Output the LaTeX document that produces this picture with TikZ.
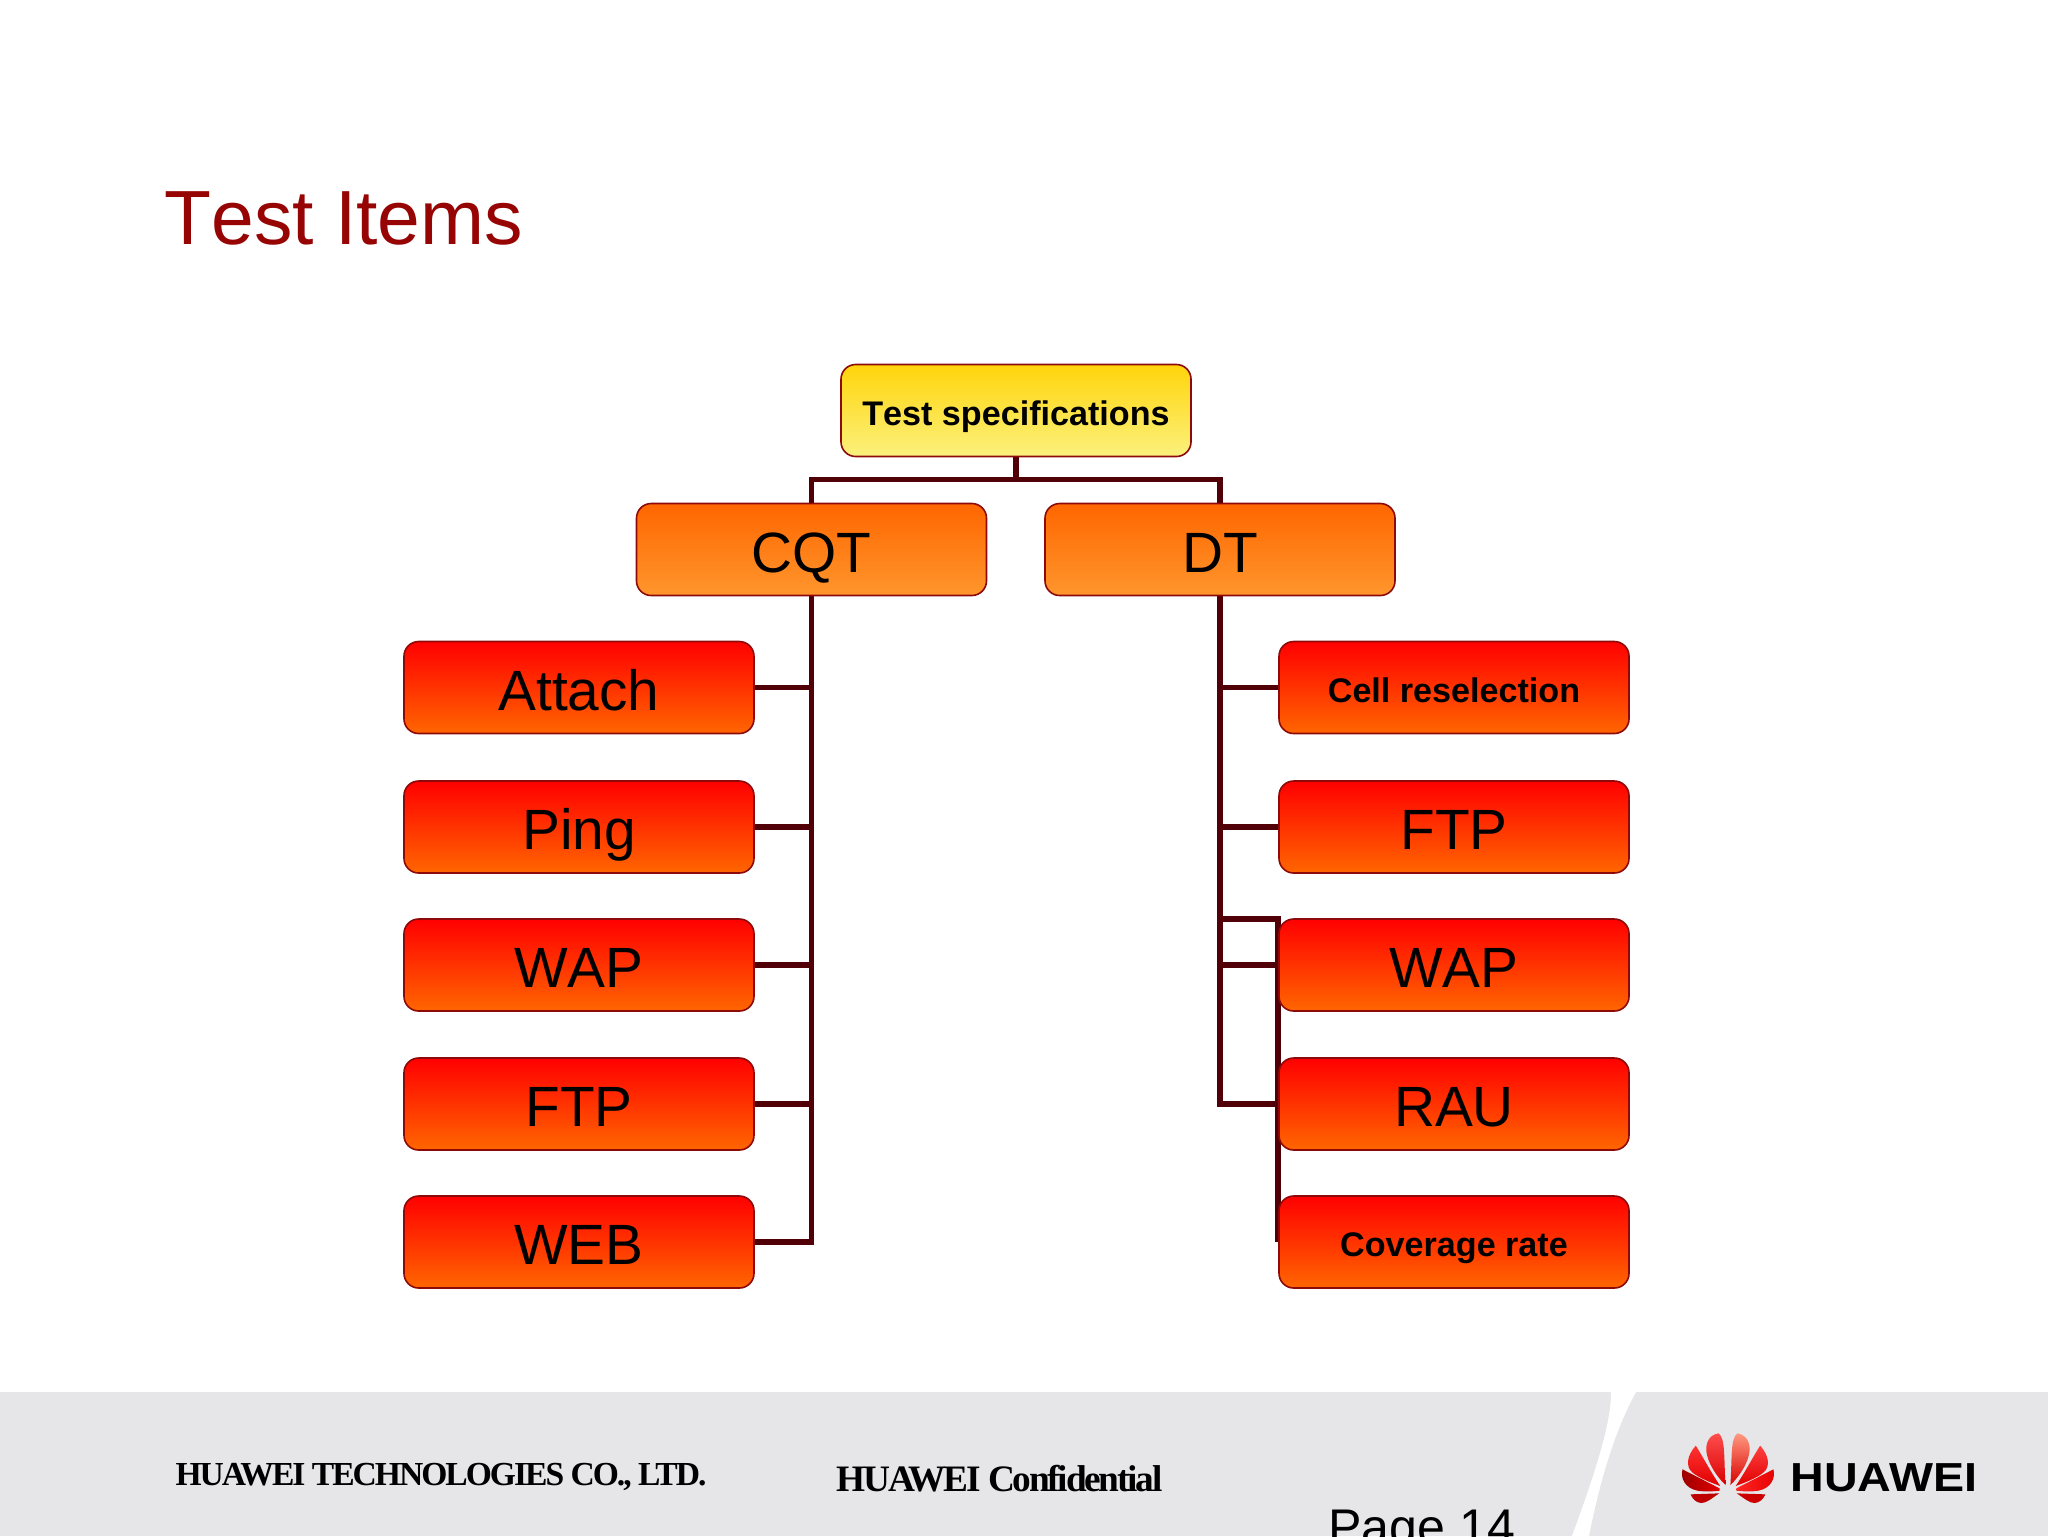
\documentclass[tikz,border=0pt]{standalone}
\usepackage{fontspec}
\setmainfont[Kerning=Off]{Liberation Sans}
\newfontfamily\footserif[LetterSpace=-6]{Liberation Serif}
\newfontfamily\brandfont{Liberation Sans}
\usetikzlibrary{backgrounds}
\definecolor{linedark}{HTML}{520008}
\definecolor{boxedge}{HTML}{8E0A0A}
\definecolor{titlered}{HTML}{960404}
\definecolor{footgray}{HTML}{E6E5E8}
\tikzset{
  x=0.375pt,y=-0.375pt,
  boxbase/.style={draw=boxedge,line width=0.6pt,rounded corners=5.5pt,minimum width=131.25pt,minimum height=34.5pt,inner sep=0pt,text=black,align=center},
  bigtext/.style={font=\fontsize{21.3}{25}\selectfont,text height=17.2pt,text depth=0pt},
  smalltext/.style={font=\fontsize{12.8}{15}\selectfont\bfseries,text height=11.2pt,text depth=0pt},
  yellowbox/.style={boxbase,top color={rgb,255:red,255;green,212;blue,10},bottom color={rgb,255:red,251;green,241;blue,125}},
  orangebox/.style={boxbase,top color={rgb,255:red,255;green,102;blue,0},bottom color={rgb,255:red,255;green,150;blue,45}},
  redbox/.style={boxbase,top color={rgb,255:red,255;green,0;blue,0},bottom color={rgb,255:red,255;green,102;blue,0}},
  link/.style={draw=linedark,line width=2.2pt,sharp corners},
  footlabel/.style={inner sep=0pt,anchor=base west,text=black,font=\footserif\bfseries},
}
\newcommand{\logohalf}[4]{%
  \shade[top color=#1,bottom color=red!85!black] (645,315) .. controls (640,230) and (645,175) .. (625,160) .. controls (595,165) and (585,195) .. (592,225) .. controls (600,260) and (625,295) .. (645,315) -- cycle;
  \shade[top color=#2,bottom color=red!88!black] (630,318) .. controls (605,280) and (580,230) .. (560,197) .. controls (535,225) and (530,260) .. (550,277) .. controls (570,295) and (610,310) .. (630,318) -- cycle;
  \shade[left color=#3,right color=red!90!black] (628,325) -- (522,268) .. controls (515,295) and (530,325) .. (565,332) .. controls (590,336) and (610,334) .. (628,332) -- cycle;
  \fill[#4] (545,343) -- (627,340) .. controls (605,355) and (590,370) .. (575,369) .. controls (560,368) and (550,355) .. (545,343) -- cycle;
}
\begin{document}
\begin{tikzpicture}
\useasboundingbox (0,0) rectangle (2048,1536);
\clip (0,0) rectangle (2048,1536);

% footer band
\fill[footgray] (0,1392) rectangle (2048,1536);
\fill[white] (1611,1392) .. controls (1611,1420) and (1600,1460) .. (1572,1536) -- (1589,1536) .. controls (1600,1480) and (1615,1430) .. (1636,1392) -- cycle;

\node[anchor=base west,inner sep=0pt,font=\fontsize{28.8}{34}\selectfont,text=titlered] (title) at (164,244) {Test Items};

% boxes
\node[yellowbox,smalltext] (test) at (1016,410.5) {Test specifications};
\node[orangebox,bigtext] (cqt) at (811.5,549.5) {CQT};
\node[orangebox,bigtext] (dt) at (1220,549.5) {DT};

\node[redbox,bigtext] (lattach) at (579,687.5) {Attach};
\node[redbox,bigtext] (lping) at (579,827) {Ping};
\node[redbox,bigtext] (lwap) at (579,965) {WAP};
\node[redbox,bigtext] (lftp) at (579,1104) {FTP};
\node[redbox,bigtext] (lweb) at (579,1242) {WEB};

\node[redbox,smalltext] (rcell) at (1454,687.5) {Cell reselection};
\node[redbox,bigtext] (rftp) at (1454,827) {FTP};
\node[redbox,bigtext] (rwap) at (1454,965) {WAP};
\node[redbox,bigtext] (rrau) at (1454,1104) {RAU};
\node[redbox,smalltext] (rcov) at (1454,1242) {Coverage rate};

\coordinate (busy) at (1016,479.5);
\coordinate (rjointop) at (1278,919);
\coordinate (rjoinbot) at (1278,1242);

\begin{pgfonlayer}{background}
  \draw[link] (test.south) -- (busy);
  \draw[link] (cqt.north) |- (busy) -| (dt.north);
  \draw[link] (cqt.south) |- (lattach.east);
  \draw[link] (cqt.south) |- (lping.east);
  \draw[link] (cqt.south) |- (lwap.east);
  \draw[link] (cqt.south) |- (lftp.east);
  \draw[link] (cqt.south) |- (lweb.east);
  \draw[link] (dt.south) |- (rcell.west);
  \draw[link] (dt.south) |- (rftp.west);
  \draw[link] (dt.south) |- (rwap.west);
  \draw[link] (dt.south) |- (rrau.west);
  \draw[link] (dt.south) |- (rjointop) -- (rjoinbot);
\end{pgfonlayer}

% footer text
\node[footlabel,font=\footserif\bfseries\fontsize{12.6}{15}\selectfont] (company) at (175,1485) {HUAWEI TECHNOLOGIES CO., LTD.};
\node[footlabel,font=\footserif\bfseries\fontsize{14}{16}\selectfont] (conf) at (836,1491) {HUAWEI Confidential};
\node[anchor=base west,inner sep=0pt,font=\fontsize{18.8}{22}\selectfont,text=black] (page) at (1328,1544) {Page 14};

% logo
\begin{scope}[shift={(1500,1380)},x=0.1311pt,y=-0.125pt]
  \logohalf{red!70!white}{red!80!white}{red!60!black}{red!75!black}
  \begin{scope}[shift={(1304,0)},x=-0.1311pt]
    \logohalf{orange!40!red!50!white}{red!75!white}{red!85!white}{red!80!black}
  \end{scope}
\end{scope}
\node[anchor=base west,inner sep=0pt,font=\brandfont\fontsize{15.2}{18}\selectfont\bfseries,text=black,xscale=1.15,transform shape] (brand) at (1790,1491) {HUAWEI};
\end{tikzpicture}
\end{document}
